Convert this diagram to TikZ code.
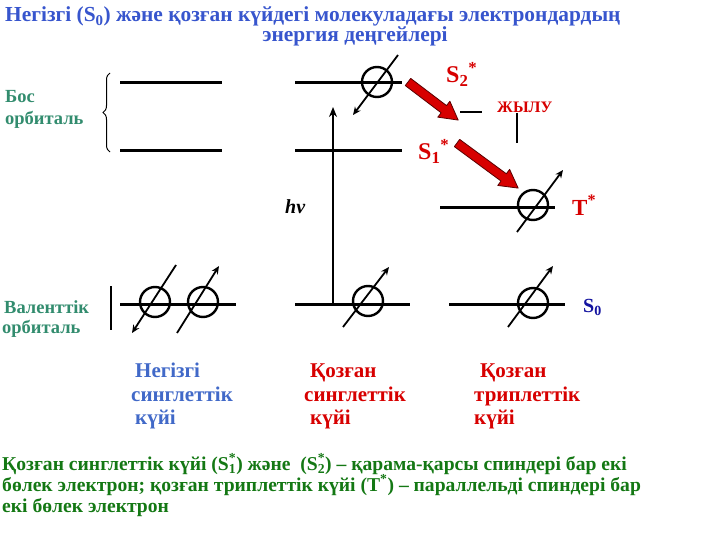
\documentclass[tikz,border=0pt]{standalone}
\usepackage{fontspec}
\setmainfont{Liberation Serif}
\usetikzlibrary{arrows.meta,decorations.pathreplacing,calc}
\definecolor{ttl}{RGB}{55,85,205}
\definecolor{lblue}{RGB}{65,105,200}
\definecolor{tgreen}{RGB}{50,140,110}
\definecolor{pgreen}{RGB}{20,120,20}
\definecolor{rd}{RGB}{215,0,0}
\definecolor{dblue}{RGB}{20,20,160}
\definecolor{darr}{RGB}{90,0,0}
\newcommand\ssub[2]{\rlap{\textsuperscript{#2}}\textsubscript{#1}}
\newcommand\fs[1]{\fontsize{#1}{#1}\selectfont\bfseries}
\begin{document}
\begin{tikzpicture}[x=1pt,y=-1pt,
  txt/.style={inner sep=0,anchor=base west},
  level/.style={line width=3pt},
  orb/.style={circle,draw,line width=2.4pt,minimum size=30pt,inner sep=0},
  spin/.style={line width=1.8pt,-{Stealth[length=8pt,width=7pt]}},
  redarr/.style={fill=rd,draw=darr,line width=0.8pt,line join=round}]
\useasboundingbox (0,0) rectangle (720,540);
% title
\node[txt,text=ttl,font=\fs{21.4}] (t1) at (5,22) {Негізгі (S\textsubscript{0}) және қозған күйдегі молекуладағы электрондардың};
\node[inner sep=0,anchor=base,text=ttl,font=\fs{21.4}] (t2) at (355,42) {энергия деңгейлері};
% left labels
\node[txt,text=tgreen,font=\fs{18.5}] (bos) at (5,103) {Бос};
\node[txt,text=tgreen,font=\fs{18.5}] (orb1) at (5,125) {орбиталь};
\node[txt,text=tgreen,font=\fs{18.5}] (val) at (4,313) {Валенттік};
\node[txt,text=tgreen,font=\fs{18.5}] (orb2) at (2,333) {орбиталь};
\draw[decorate,decoration={brace,amplitude=7pt},line width=1pt] (110,152) -- (110,73);
\draw[line width=1.5pt] (111,286) -- (111,330);
% levels
\draw[level] (120,83) -- (222,83);
\draw[level] (120,151) -- (222,151);
\draw[level] (120,304) -- (236,304);
\draw[level] (295,83) -- (402,83);
\draw[level] (295,151) -- (402,151);
\draw[level] (295,304) -- (410,304);
\draw[level] (440,208) -- (555,208);
\draw[level] (449,304) -- (565,304);
% electrons
\node[orb] (e1) at (155,302) {};
\node[orb] (e2) at (203,302) {};
\node[orb] (e3) at (377,82) {};
\node[orb] (e4) at (368,301) {};
\node[orb] (e5) at (533,205) {};
\node[orb] (e6) at (533,303) {};
\draw[spin] ($(e1)+(21,-37)$) -- ($(e1)+(-23,31)$);
\draw[spin] ($(e2)+(-26,31)$) -- ($(e2)+(16,-36)$);
\draw[spin] ($(e3)+(21,-27)$) -- ($(e3)+(-24,33)$);
\draw[spin] ($(e4)+(-25,26)$) -- ($(e4)+(21,-34)$);
\draw[spin] ($(e5)+(-16,27)$) -- ($(e5)+(30,-35)$);
\draw[spin] ($(e6)+(-25,24)$) -- ($(e6)+(20,-37)$);
% excitation arrow
\coordinate (hvb) at (333,304);
\coordinate (hvt) at (333,107);
\draw[line width=2pt,-{Stealth[length=10pt,width=8pt]}] (hvb) -- (hvt);
\node[txt,font=\fs{20}\itshape] (hv) at (285,214) {hν};
% red block arrows
\begin{scope}[shift={(408,82)},rotate=-37.2]
\filldraw[redarr] (0,-4.5) -- (45,-4.5) -- (45,-10) -- (63,0) -- (45,10) -- (45,4.5) -- (0,4.5) -- cycle;
\end{scope}
\begin{scope}[shift={(457,143)},rotate=-36.4]
\filldraw[redarr] (0,-4.5) -- (58,-4.5) -- (58,-10) -- (76,0) -- (58,10) -- (58,4.5) -- (0,4.5) -- cycle;
\end{scope}
% state labels
\node[txt,text=rd,font=\fs{24}] (s2) at (446,83) {S\textsubscript{2}\textsuperscript{*}};
\node[txt,text=rd,font=\fs{24}] (s1) at (418,160) {S\textsubscript{1}\textsuperscript{*}};
\node[txt,text=rd,font=\fs{23}] (tt) at (572,215) {T\textsuperscript{*}};
\node[txt,text=dblue,font=\fs{20}] (s0) at (583,312) {S\textsubscript{0}};
\node[txt,text=rd,font=\fs{16}] (heat) at (497,113) {ЖЫЛУ};
\draw[line width=1.2pt] (460,112) -- (482,112);
\draw[line width=1.2pt] (517,113) -- (517,143);
% bottom labels
\node[txt,text=lblue,font=\fs{21}] at (135,377) {Негізгі};
\node[txt,text=lblue,font=\fs{21}] at (131,401) {синглеттік};
\node[txt,text=lblue,font=\fs{21}] at (135,424) {күйі};
\node[txt,text=rd,font=\fs{21}] at (310,377) {Қозған};
\node[txt,text=rd,font=\fs{21}] at (304,401) {синглеттік};
\node[txt,text=rd,font=\fs{21}] at (310,424) {күйі};
\node[txt,text=rd,font=\fs{21}] at (480,377) {Қозған};
\node[txt,text=rd,font=\fs{21}] at (474,401) {триплеттік};
\node[txt,text=rd,font=\fs{21}] at (474,424) {күйі};
% paragraph
\node[txt,text=pgreen,font=\fs{19.6}] (p1) at (2,470) {Қозған синглеттік күйі (S\ssub{1}{*}) және\ \ (S\ssub{2}{*}) – қарама-қарсы спиндері бар екі};
\node[txt,text=pgreen,font=\fs{19.6}] (p2) at (2,491) {бөлек электрон; қозған триплеттік күйі (T\textsuperscript{*}) – параллельді спиндері бар};
\node[txt,text=pgreen,font=\fs{19.6}] (p3) at (2,512) {екі бөлек электрон};
\end{tikzpicture}
\end{document}
